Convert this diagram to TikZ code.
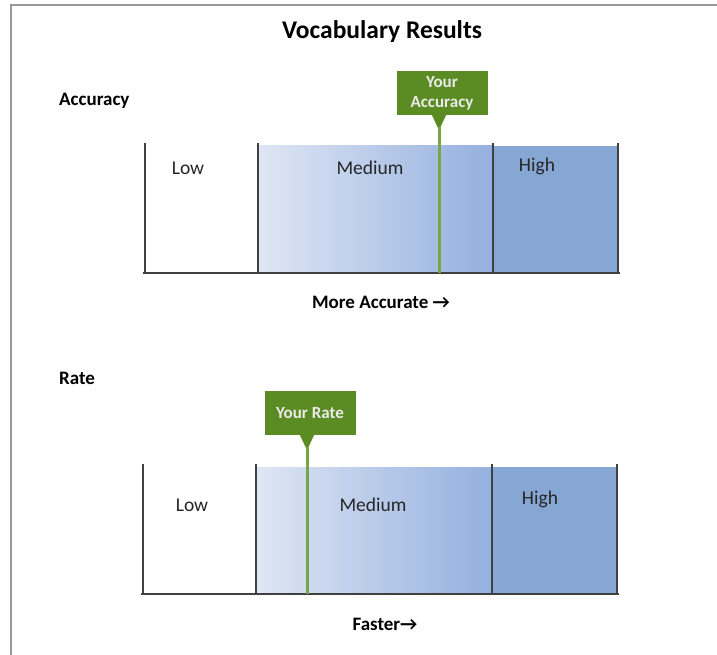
\documentclass[tikz,border=0pt]{standalone}
\usepackage{fontspec}
\setmainfont{Carlito}
\begin{document}
\begin{tikzpicture}[x=1pt,y=-1pt,
  lbl/.style={font=\fontsize{19.5}{22}\selectfont, text=black!85, inner sep=0pt},
  head/.style={font=\fontsize{19}{22}\selectfont\bfseries, inner sep=0pt},
  tag/.style={fill=tagg, text=white!92!black, font=\fontsize{17}{19}\selectfont\bfseries, align=center, inner sep=0pt, minimum width=91pt, minimum height=44pt},
  axisline/.style={draw=black!75, line width=1.4pt},
  marker/.style={draw=markg, line width=3pt},
  ptr/.style={fill=tagg}
]
\definecolor{tagg}{HTML}{5B8C23}
\definecolor{markg}{HTML}{78A548}
\definecolor{medl}{HTML}{DFE6F4}
\definecolor{medr}{HTML}{94B0DF}
\definecolor{highc}{HTML}{86A6D4}
\useasboundingbox (0,0) rectangle (717,655);
% frame
\draw[draw=black!40, line width=1.5pt] (11,655) -- (11,5) -- (717,5);
% title
\node[font=\fontsize{25.5}{28}\selectfont\bfseries] (title) at (382,32) {Vocabulary Results};

% ---- Accuracy chart ----
\node[head, anchor=west] (acc) at (59,101) {Accuracy};
\shade[left color=medl, right color=medr] (258,146) rectangle (493,273);
\fill[highc] (493,146) rectangle (618,273);
\coordinate (a0) at (145,143);
\coordinate (a1) at (258,143);
\coordinate (a2) at (493,143);
\coordinate (a3) at (618,143);
\coordinate (ab0) at (145,273);
\draw[axisline] (143,273) -- (620,273);
\foreach \c in {a0,a1,a2,a3}{\draw[axisline] (\c) -- (\c |- ab0);}
\node[lbl] (alow) at (188,168) {Low};
\node[lbl] (amed) at (370,168) {Medium};
\node[lbl] (ahigh) at (537,166) {High};
\node[tag] (atag) at (442,93) {Your\\[1pt]Accuracy};
\coordinate (ap) at ([xshift=-3pt]atag.south);
\fill[ptr] ([xshift=-7pt]ap) -- ([yshift=-15pt]ap) -- ([xshift=7pt]ap) -- cycle;
\draw[marker] ([yshift=-12pt]ap) -- (ap |- ab0);
\node[head] (more) at (381,302) {More Accurate →};

% ---- Rate chart ----
\node[head, anchor=west] (rate) at (59,378) {Rate};
\shade[left color=medl, right color=medr] (256,467) rectangle (492,594);
\fill[highc] (492,467) rectangle (617,594);
\coordinate (r0) at (143,464);
\coordinate (r1) at (256,464);
\coordinate (r2) at (492,464);
\coordinate (r3) at (617,464);
\coordinate (rb0) at (143,594);
\draw[axisline] (141,594) -- (619,594);
\foreach \c in {r0,r1,r2,r3}{\draw[axisline] (\c) -- (\c |- rb0);}
\node[lbl] (rlow) at (192,505) {Low};
\node[lbl] (rmed) at (373,505) {Medium};
\node[lbl] (rhigh) at (540,499) {High};
\node[tag] (rtag) at (310,413) {Your Rate};
\coordinate (rp) at ([xshift=-3pt]rtag.south);
\fill[ptr] ([xshift=-7pt]rp) -- ([yshift=-15pt]rp) -- ([xshift=7pt]rp) -- cycle;
\draw[marker] ([yshift=-12pt]rp) -- (rp |- rb0);
\node[head] (faster) at (385,624) {Faster→};
\end{tikzpicture}
\end{document}
